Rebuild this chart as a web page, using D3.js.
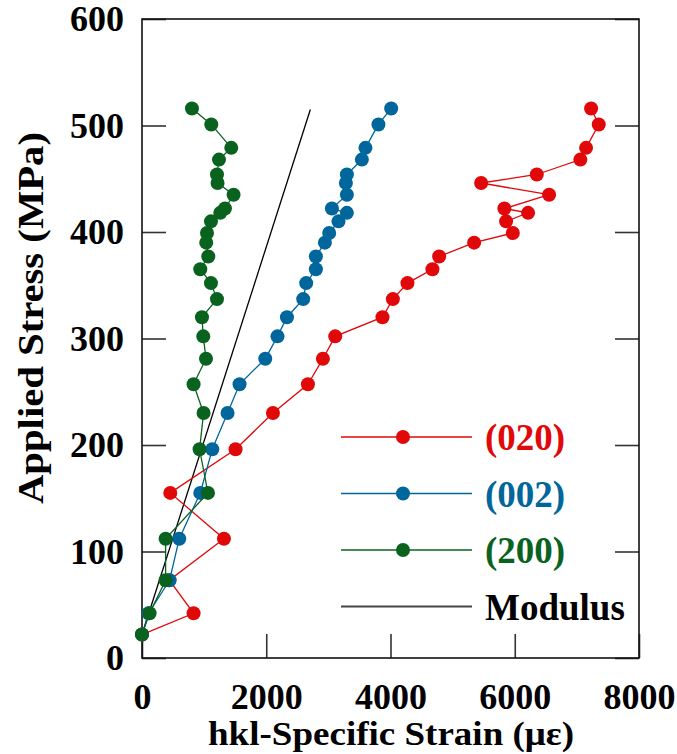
<!DOCTYPE html>
<html>
<head>
<meta charset="utf-8">
<script src="https://cdn.jsdelivr.net/npm/d3@7"></script>
<style>
  body { margin: 0; background: #fff; }
  svg text { font-family: 'Liberation Serif', 'Times New Roman', serif; font-weight: bold; }
</style>
</head>
<body>
<svg width="677" height="754"></svg>
<script>
// applied stress levels (MPa), shared by every reflection
const stress = [22, 42, 73, 112, 155, 196, 230, 257, 281, 302, 320, 337, 352, 365,
  377, 390, 399, 410, 418, 422, 435, 446, 454, 468, 479, 501, 516];

// hkl-specific strain (microstrain) at each stress level
const strain020 = [0, 830, 440, 1319, 455, 1506, 2108, 2671, 2912, 3110, 3871, 4038, 4273, 4675,
  4783, 5346, 5969, 5861, 6215, 5833, 6553, 5459, 6355, 7056, 7148, 7352, 7229];
const strain002 = [0, 106, 444, 600, 938, 1131, 1377, 1570, 1984, 2181, 2333, 2595, 2643, 2799,
  2799, 2944, 3013, 3163, 3298, 3057, 3298, 3282, 3298, 3539, 3597, 3806, 4011];
const strain200 = [0, 122, 380, 380, 1062, 927, 991, 830, 1030, 986, 965, 1207, 1110, 938,
  1067, 1034, 1046, 1110, 1260, 1335, 1474, 1216, 1207, 1239, 1437, 1115, 804];

// elastic modulus reference line (strain, stress)
const modulusStrain = [0, 2710];
const modulusStress = [22, 515];

const xTicks = [0, 2000, 4000, 6000, 8000];
const yTicks = [0, 100, 200, 300, 400, 500, 600];

const seriesNames = ['(020)', '(002)', '(200)'];
const seriesStrain = [strain020, strain002, strain200];
const colors = ['#e00808', '#00669b', '#0a621f'];

const margin = { top: 19, right: 38, bottom: 96, left: 142 };
const svg = d3.select('svg');
const width = +svg.attr('width') - margin.left - margin.right;
const height = +svg.attr('height') - margin.top - margin.bottom;
const g = svg
  .append('g')
  .attr('transform', `translate(${margin.left}, ${margin.top})`);

const x = d3.scaleLinear().domain([0, 8000]).range([0, width]);
const y = d3.scaleLinear().domain([0, 600]).range([height, 0]);

const series = seriesNames.map((name, i) => ({
  name,
  color: colors[i],
  values: stress.map((s, j) => ({ x: seriesStrain[i][j], y: s }))
}));

const line = d3
  .line()
  .x(d => x(d.x))
  .y(d => y(d.y));

// Axes (ticks inward, box frame)
const tickLen = 24;
g
  .append('g')
  .attr('class', 'x-axis')
  .attr('transform', `translate(0,${height})`)
  .call(d3.axisBottom(x).tickValues(xTicks).tickSize(-tickLen).tickPadding(25).tickFormat(d3.format('d')))
  .call(a => a.select('.domain').remove())
  .call(a => a.selectAll('line').attr('stroke', '#333').attr('stroke-width', 1.6))
  .call(a => a.selectAll('text').attr('fill', '#000').attr('font-size', 36));

g
  .append('g')
  .attr('class', 'y-axis')
  .call(d3.axisLeft(y).tickValues(yTicks).tickSize(-tickLen).tickPadding(18))
  .call(a => a.select('.domain').remove())
  .call(a => a.selectAll('line').attr('stroke', '#333').attr('stroke-width', 1.6))
  .call(a => a.selectAll('text').attr('fill', '#000').attr('font-size', 36));

g
  .append('g')
  .attr('class', 'y-axis-right')
  .attr('transform', `translate(${width},0)`)
  .call(d3.axisRight(y).tickValues(yTicks).tickSize(-tickLen).tickFormat(''))
  .call(a => a.select('.domain').remove())
  .call(a => a.selectAll('line').attr('stroke', '#333').attr('stroke-width', 1.6));

g
  .append('rect')
  .attr('width', width)
  .attr('height', height)
  .attr('fill', 'none')
  .attr('stroke', '#111')
  .attr('stroke-width', 1.6);

// Modulus line
g
  .append('path')
  .datum(modulusStrain.map((s, i) => ({ x: s, y: modulusStress[i] })))
  .attr('fill', 'none')
  .attr('stroke', '#000')
  .attr('stroke-width', 1.3)
  .attr('d', line);

// Series
const plot = g
  .append('g')
  .attr('class', 'plotarea')
  .selectAll('g')
  .data(series)
  .enter()
  .append('g')
  .attr('class', 'series');

plot
  .append('path')
  .attr('fill', 'none')
  .attr('stroke', d => d.color)
  .attr('stroke-width', 1.3)
  .attr('d', d => line(d.values));

plot
  .selectAll('circle')
  .data(d => d.values.map(v => ({ ...v, color: d.color })))
  .enter()
  .append('circle')
  .attr('cx', d => x(d.x))
  .attr('cy', d => y(d.y))
  .attr('r', 7)
  .attr('fill', d => d.color);

// Legend
const legendItems = series
  .map(s => ({ name: s.name, color: s.color, marker: true }))
  .concat([{ name: 'Modulus', color: '#000', marker: false }]);

const legend = svg
  .append('g')
  .attr('class', 'legend')
  .selectAll('g')
  .data(legendItems)
  .enter()
  .append('g')
  .attr('transform', (d, i) => `translate(341, ${437 + i * 56.5})`);

legend
  .append('line')
  .attr('x1', 0)
  .attr('x2', 131)
  .attr('stroke', d => (d.marker ? d.color : '#444'))
  .attr('stroke-width', d => (d.marker ? 1.4 : 2));

legend
  .filter(d => d.marker)
  .append('circle')
  .attr('cx', 62)
  .attr('r', 7)
  .attr('fill', d => d.color);

legend
  .append('text')
  .attr('x', 144)
  .attr('y', 13)
  .attr('font-size', 37)
  .attr('fill', d => d.color)
  .text(d => d.name);

// Axis titles
svg
  .append('text')
  .attr('x', 391)
  .attr('y', 745)
  .attr('font-size', 34)
  .attr('textLength', 366)
  .attr('lengthAdjust', 'spacingAndGlyphs')
  .style('text-anchor', 'middle')
  .text('hkl-Specific Strain (με)');

svg
  .append('text')
  .attr('transform', 'translate(43, 318) rotate(-90)')
  .attr('font-size', 36)
  .attr('textLength', 372)
  .attr('lengthAdjust', 'spacingAndGlyphs')
  .style('text-anchor', 'middle')
  .text('Applied Stress (MPa)');
</script>
</body>
</html>
